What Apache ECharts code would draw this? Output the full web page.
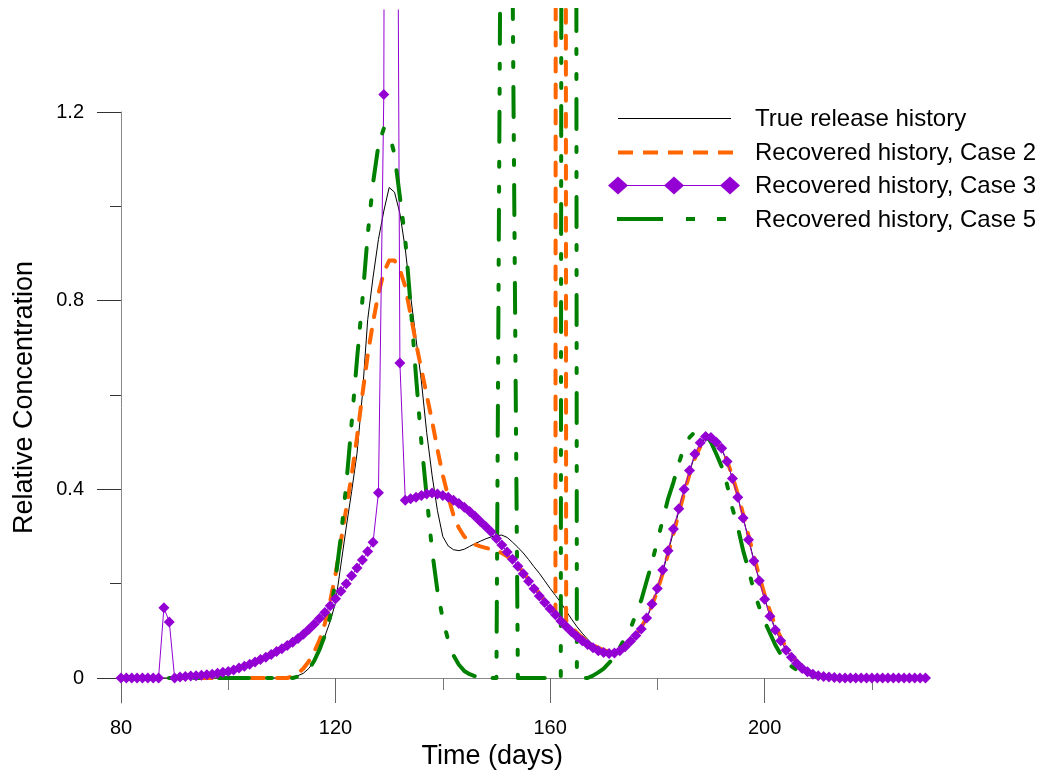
<!DOCTYPE html>
<html><head><meta charset="utf-8">
<script src="https://cdn.jsdelivr.net/npm/echarts@6/dist/echarts.min.js"></script>
<style>html,body{margin:0;padding:0;background:#fff}#c{width:1047px;height:776px}</style>
</head><body><div id="c"></div>
<script>
const days = [80,81,82,83,84,85,86,87,88,89,90,91,92,93,94,95,96,97,98,99,
100,101,102,103,104,105,106,107,108,109,110,111,112,113,114,115,116,117,118,119,
120,121,122,123,124,125,126,127,128,129,130,131,132,133,134,135,136,137,138,139,
140,141,142,143,144,145,146,147,148,149,150,151,152,153,154,155,156,157,158,159,
160,161,162,163,164,165,166,167,168,169,170,171,172,173,174,175,176,177,178,179,
180,181,182,183,184,185,186,187,188,189,190,191,192,193,194,195,196,197,198,199,
200,201,202,203,204,205,206,207,208,209,210,211,212,213,214,215,216,217,218,219,
220,221,222,223,224,225,226,227,228,229,230];

const trueHistory = [0,0,0,0,0,0,0,0,0,0,0,0,0,0,0,0,0,0,0,0,
0,0,0,0,0,0,0,0,0,0,0,0,0.002,0.005,0.01,0.02,0.035,0.058,0.088,0.12,
0.16,0.24,0.32,0.395,0.476,0.60,0.76,0.85,0.93,0.99,1.04,1.03,0.985,0.91,0.81,0.72,0.63,0.52,0.43,0.355,
0.30,0.28,0.272,0.27,0.273,0.279,0.285,0.29,0.295,0.299,0.302,0.303,0.298,0.288,0.277,0.265,0.251,0.236,0.222,0.206,
0.19,0.175,0.16,0.142,0.125,0.109,0.095,0.082,0.071,0.062,0.056,0.053,0.054,0.058,0.066,0.077,0.09,0.105,0.126,0.153,
0.186,0.224,0.266,0.31,0.354,0.397,0.437,0.472,0.496,0.509,0.51,0.501,0.485,0.458,0.423,0.384,0.34,0.295,0.25,0.208,
0.169,0.134,0.104,0.08,0.06,0.044,0.031,0.021,0.014,0.009,0.005,0.003,0.001,0,0,0,0,0,0,0,
0,0,0,0,0,0,0,0,0,0,0];

const case2 = [0,0,0,0,0,0,0,0,0,0,0,0,0,0,0,0,0,0,0,0,
0,0,0,0,0,0,0,0,0,0,0,0,0.004,0.01,0.02,0.035,0.055,0.08,0.115,0.163,
0.22,0.29,0.36,0.43,0.51,0.60,0.685,0.755,0.815,0.86,0.885,0.885,0.865,0.83,0.77,0.71,0.655,0.6,0.545,0.485,
0.43,0.385,0.345,0.318,0.3,0.29,0.283,0.279,0.276,0.273,0.27,0.265,0.258,0.25,0.238,0.224,0.209,0.194,0.179,0.164,
0.15,0.138,25,0.122,0.108,0.096,0.086,0.077,0.07,0.064,0.059,0.056,0.057,0.061,0.068,0.078,0.091,0.107,0.128,0.154,
0.185,0.222,0.263,0.306,0.35,0.392,0.432,0.466,0.49,0.504,0.507,0.50,0.486,0.461,0.428,0.39,0.347,0.302,0.258,0.216,
0.177,0.142,0.111,0.086,0.065,0.048,0.035,0.024,0.016,0.01,0.006,0.003,0.001,0,0,0,0,0,0,0,
0,0,0,0,0,0,0,0,0,0,0];

const case3 = [0,0,0,0,0,0,0,0,0.149,0.119,0,0.002,0.003,0.004,0.005,0.006,0.007,0.008,0.01,0.012,
0.014,0.017,0.021,0.025,0.029,0.034,0.039,0.044,0.05,0.056,0.062,0.069,0.076,0.084,0.093,0.103,0.114,0.126,0.139,0.153,
0.168,0.184,0.2,0.217,0.233,0.25,0.268,0.288,0.393,1.237,6,3.2,0.668,0.377,0.38,0.383,0.387,0.39,0.392,0.39,
0.387,0.383,0.377,0.37,0.362,0.353,0.343,0.332,0.321,0.31,0.296,0.282,0.267,0.252,0.237,0.221,0.205,0.189,0.174,0.16,
0.147,0.134,0.121,0.109,0.098,0.088,0.079,0.071,0.064,0.058,0.054,0.052,0.053,0.058,0.066,0.078,0.09,0.104,0.127,0.157,
0.19,0.229,0.27,0.316,0.359,0.40,0.44,0.475,0.499,0.512,0.51,0.50,0.487,0.459,0.423,0.383,0.339,0.293,0.248,0.206,
0.167,0.131,0.102,0.079,0.059,0.044,0.031,0.02,0.013,0.008,0.005,0.003,0.002,0.001,0,0,0,0,0,0,
0,0,0,0,0,0,0,0,0,0,0];

const case5 = [0,0,0,0,0,0,0,0,0,0,0,0,0,0,0,0,0,0,0,0,
0,0,0,0,0,0,0,0,0,0,0,0,0,0.003,0.008,0.018,0.036,0.06,0.09,0.13,
0.21,0.30,0.41,0.54,0.675,0.80,0.94,1.05,1.13,1.165,1.155,1.11,1.02,0.93,0.79,0.64,0.50,0.385,0.27,0.185,
0.125,0.08,0.048,0.028,0.015,0.008,0.004,0.002,0.001,0,0,2.1,4,1.5,0,0,0,0,0,0,
0,0,0,15,15,0,0,0,0.005,0.012,0.02,0.032,0.045,0.065,0.085,0.105,0.135,0.165,0.205,0.245,
0.29,0.335,0.38,0.415,0.455,0.49,0.51,0.522,0.522,0.515,0.50,0.475,0.448,0.41,0.36,0.32,0.27,0.23,0.185,0.15,
0.12,0.095,0.07,0.05,0.035,0.025,0.017,0.011,0.007,0.004,0.002,0.001,0,0,0,0,0,0,0,0,
0,0,0,0,0,0,0,0,0,0,0];

const xMajorTicks = [80, 120, 160, 200];
const xMinorTicks = [100, 140, 180, 220];
const yMajorTicks = [0, 0.4, 0.8, 1.2];
const yMinorTicks = [0.2, 0.6, 1.0];
const seriesNames = ['True release history', 'Recovered history, Case 2', 'Recovered history, Case 3', 'Recovered history, Case 5'];
const xAxisTitle = 'Time (days)';
const yAxisTitle = 'Relative Concentration';

const FONT = '"Liberation Sans", Arial, sans-serif';
const C_TRUE = '#000000', C_2 = '#FF6600', C_3 = '#9400D3', C_5 = '#008000';

function pairs(vals) { return days.map((d, i) => [d, vals[i]]); }

const chart = echarts.init(document.getElementById('c'), null, {renderer: 'canvas'});

const legendX0 = 618, legendX1 = 731, legendTextX = 755;
const rowsY = [119.5, 153.5, 186.5, 220];
const graphics = [];
graphics.push({type: 'line', shape: {x1: legendX0, y1: rowsY[0] - 1, x2: legendX1, y2: rowsY[0] - 1}, style: {stroke: C_TRUE, lineWidth: 1}});
graphics.push({type: 'line', shape: {x1: legendX0, y1: rowsY[1] - 1, x2: legendX1 + 2, y2: rowsY[1] - 1}, style: {stroke: C_2, lineWidth: 4, lineDash: [15, 10]}});
graphics.push({type: 'line', shape: {x1: legendX0, y1: rowsY[2] - 1, x2: legendX1 - 1, y2: rowsY[2] - 1}, style: {stroke: C_3, lineWidth: 1}});
[legendX0, (legendX0 + legendX1 - 1) / 2, legendX1 - 1].forEach(function (cx) {
  const cy = rowsY[2] - 1;
  graphics.push({type: 'polygon', shape: {points: [[cx - 10, cy], [cx, cy - 9], [cx + 10, cy], [cx, cy + 9]]}, style: {fill: C_3}});
});
graphics.push({type: 'line', shape: {x1: legendX0 - 1, y1: rowsY[3] - 1, x2: legendX1 - 4, y2: rowsY[3] - 1}, style: {stroke: C_5, lineWidth: 4, lineDash: [46, 23, 9, 22, 9, 22]}});
seriesNames.forEach(function (n, i) {
  graphics.push({type: 'text', style: {text: n, x: legendTextX, y: rowsY[i], fill: '#000', fontSize: 24, fontFamily: FONT, verticalAlign: 'middle', align: 'left'}});
});

const option = {
  animation: false,
  backgroundColor: '#ffffff',
  textStyle: {fontFamily: FONT},
  grid: [
    {left: 121, right: 121.5, top: 10, bottom: 73, containLabel: false, outerBoundsMode: 'none'},
    {left: 121, right: 121.5, top: 112, bottom: 73, containLabel: false, outerBoundsMode: 'none'}
  ],
  xAxis: [
    {gridIndex: 0, type: 'value', min: 80, max: 230, show: false},
    {gridIndex: 1, type: 'value', min: 80, max: 230, position: 'bottom',
      axisLine: {show: true, onZero: true, onZeroAxisIndex: 1, lineStyle: {color: '#888', width: 1}},
      axisTick: {show: true, customValues: xMajorTicks, length: 25, lineStyle: {color: '#666', width: 1}},
      axisLabel: {show: true, customValues: xMajorTicks, margin: 15, fontSize: 20, color: '#000', fontFamily: FONT},
      splitLine: {show: false},
      name: xAxisTitle, nameLocation: 'middle', nameGap: 32,
      nameTextStyle: {fontSize: 27, color: '#000', fontFamily: FONT, padding: [0, 62, 0, 0]}
    },
    {gridIndex: 1, type: 'value', min: 80, max: 230, position: 'bottom',
      axisLine: {show: false, onZero: true, onZeroAxisIndex: 2},
      axisTick: {show: true, customValues: xMinorTicks, length: 12, lineStyle: {color: '#777', width: 1}},
      axisLabel: {show: false}, splitLine: {show: false}
    }
  ],
  yAxis: [
    {gridIndex: 0, type: 'value', min: -0.053, max: 1.4163, show: false},
    {gridIndex: 1, type: 'value', min: -0.053, max: 1.2, position: 'left',
      axisLine: {show: true, onZero: false, lineStyle: {color: '#888', width: 1}},
      axisTick: {show: true, customValues: yMajorTicks, length: 24, lineStyle: {color: '#333', width: 1}},
      axisLabel: {show: true, customValues: yMajorTicks, margin: 37, fontSize: 20, color: '#000', fontFamily: FONT},
      splitLine: {show: false},
      name: yAxisTitle, nameLocation: 'middle', nameGap: 83, nameRotate: 90,
      nameTextStyle: {fontSize: 27, color: '#000', fontFamily: FONT, padding: [0, 0, 0, 20]}
    },
    {gridIndex: 1, type: 'value', min: -0.053, max: 1.2, position: 'left',
      axisLine: {show: false, onZero: false},
      axisTick: {show: true, customValues: yMinorTicks, length: 11, lineStyle: {color: '#333', width: 1}},
      axisLabel: {show: false}, splitLine: {show: false}
    }
  ],
  series: [
    {name: seriesNames[0], type: 'line', xAxisIndex: 0, yAxisIndex: 0, data: pairs(trueHistory),
      symbol: 'none', clip: true, silent: true,
      lineStyle: {color: C_TRUE, width: 1}, itemStyle: {color: C_TRUE}},
    {name: seriesNames[1], type: 'line', xAxisIndex: 0, yAxisIndex: 0, data: pairs(case2),
      symbol: 'none', clip: true, silent: true,
      lineStyle: {color: C_2, width: 4, type: [13, 13], cap: 'round', join: 'round'}, itemStyle: {color: C_2}},
    {name: seriesNames[2], type: 'line', xAxisIndex: 0, yAxisIndex: 0, data: pairs(case3),
      symbol: 'diamond', symbolSize: 11, showSymbol: true, clip: true, silent: true,
      lineStyle: {color: C_3, width: 1}, itemStyle: {color: C_3}},
    {name: seriesNames[3], type: 'line', xAxisIndex: 0, yAxisIndex: 0, data: pairs(case5),
      symbol: 'none', clip: true, silent: true,
      lineStyle: {color: C_5, width: 4, type: [30, 18, 5, 20, 5, 20], cap: 'round', join: 'round'}, itemStyle: {color: C_5}}
  ],
  graphic: graphics
};
chart.setOption(option);
</script>
</body></html>
